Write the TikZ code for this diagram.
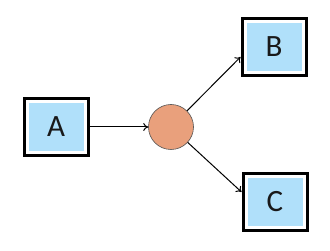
\documentclass[tikz,border=0pt]{standalone}
\usepackage{fontspec}
\setmainfont{Carlito}
\usetikzlibrary{arrows.meta}
\definecolor{boxblue}{HTML}{B0E0FA}
\definecolor{circfill}{HTML}{E9A07C}
\definecolor{circline}{HTML}{505050}
\tikzset{
  boxnode/.style={rectangle, fill=boxblue, draw=white, line width=3pt,
    preaction={draw=black, line width=9pt},
    minimum width=58pt, minimum height=51pt, outer sep=4.5pt,
    font=\fontsize{31}{34}\selectfont, text=black!90},
  hub/.style={circle, fill=circfill, draw=circline, line width=0.6pt, minimum size=45pt, inner sep=0pt},
  arr/.style={-{To[length=5pt,width=8pt]}, line width=1pt, black}
}
\begin{document}
\begin{tikzpicture}[x=1pt,y=-1pt]
\useasboundingbox (0,0) rectangle (330,251);
\node[boxnode] (A) at (56,127) {A};
\node[boxnode] (B) at (274,47) {B};
\node[boxnode] (C) at (275,202) {C};
\node[hub] (O) at (171,127) {};
\draw[arr] (A) -- (O);
\draw[arr] (O) -- ([yshift=-10pt]B.west);
\draw[arr] (O) -- ([yshift=10pt]C.west);
\end{tikzpicture}
\end{document}
